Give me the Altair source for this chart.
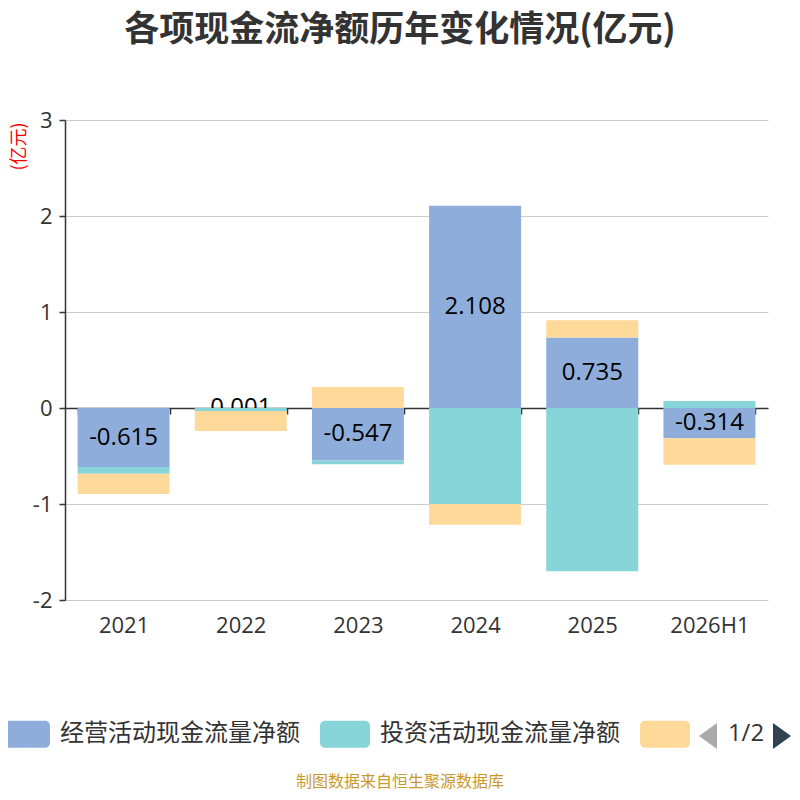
import altair as alt
import pandas as pd

years = ["2021", "2022", "2023", "2024", "2025", "2026H1"]
series_names = ["经营活动现金流量净额", "投资活动现金流量净额", "筹资活动现金流量净额"]
operating = [-0.615, 0.001, -0.547, 2.108, 0.735, -0.314]
investing = [-0.07, -0.03, -0.04, -1.00, -1.70, 0.073]
financing = [-0.21, -0.21, 0.22, -0.215, 0.18, -0.277]
colors = ["#8EADDB", "#87D5D8", "#FFD999"]

rows = []
for i, y in enumerate(years):
    for k, vals in enumerate([operating, investing, financing]):
        rows.append({"year": y, "series": series_names[k], "order": k, "value": vals[i]})
df = pd.DataFrame(rows)

FONT = "Noto Sans CJK SC"
NUMFONT = "Open Sans"
W, H = 703, 480

base = alt.Chart(df).transform_calculate(
    sign="datum.value >= 0 ? 'pos' : 'neg'"
).transform_stack(
    stack="value", groupby=["year", "sign"], as_=["v0", "v1"],
    sort=[alt.SortField("order", order="ascending")]
).transform_calculate(
    mid="(datum.v0 + datum.v1) / 2",
    lbl="replace(format(datum.value, '.3f'), '\u2212', '-')"
)

xenc = alt.X("year:N", sort=years,
             scale=alt.Scale(paddingInner=0.215, paddingOuter=0.1075),
             axis=alt.Axis(title=None, offset=-192, tickBand="extent",
                           domainColor="#333333", domainWidth=1.5,
                           tickColor="#333333", tickSize=6, tickWidth=1.5,
                           labelFontSize=22, labelColor="#333333", labelFont=NUMFONT,
                           labelPadding=201, labelAngle=0, grid=False))
yaxis = alt.Axis(values=[-2, -1, 0, 1, 2, 3], title="(亿元)", titleAngle=270,
                 titleX=-46, titleY=26, titleAlign="center", titleBaseline="middle",
                 titleColor="red", titleFontSize=18, titleFontWeight="normal", titleFont=FONT,
                 domainColor="#333333", domainWidth=1.5, tickColor="#333333", tickSize=6,
                 tickWidth=1.5, labelFontSize=22, labelColor="#333333", labelFont=NUMFONT,
                 labelExpr="replace(datum.label, '\u2212', '-')",
                 labelPadding=7, gridColor="#cccccc", gridWidth=1.2)
yscale = alt.Scale(domain=[-2, 3], nice=False)

legend_path = ("M-0.8,-0.54H0.8A0.2,0.2,0,0,1,1,-0.34V0.34A0.2,0.2,0,0,1,0.8,0.54"
               "H-0.8A0.2,0.2,0,0,1,-1,0.34V-0.34A0.2,0.2,0,0,1,-0.8,-0.54Z")
color = alt.Color("series:N", scale=alt.Scale(domain=series_names, range=colors),
                  legend=alt.Legend(orient="none", legendX=-65, legendY=589,
                                    direction="horizontal", title=None,
                                    symbolType=legend_path, symbolSize=2500,
                                    symbolStrokeWidth=0, symbolOpacity=1,
                                    labelFontSize=24, labelFont=FONT, labelColor="#333333",
                                    labelLimit=400, labelOffset=10, columnPadding=20,
                                    labelExpr="datum.label == '筹资活动现金流量净额' ? '' : datum.label"))

bars_op = base.transform_filter("datum.order == 0").mark_bar().encode(
    x=xenc, y=alt.Y("v0:Q", scale=yscale, axis=yaxis), y2="v1:Q", color=color)

labels = base.transform_filter("datum.order == 0").mark_text(
    fontSize=24, font=NUMFONT, color="#000000").encode(
    x=xenc, y=alt.Y("mid:Q", scale=yscale, axis=yaxis),
    text="lbl:N")

bars_rest = base.transform_filter("datum.order > 0").mark_bar().encode(
    x=xenc, y=alt.Y("v0:Q", scale=yscale, axis=yaxis), y2="v1:Q", color=color)

one = pd.DataFrame({"t": ["x"]})
title = alt.Chart(one).mark_text(fontSize=35, fontWeight="bold", font=FONT,
                                 color="#333333").encode(
    x=alt.value(335), y=alt.value(-90), text=alt.value("各项现金流净额历年变化情况(亿元)"))
footer = alt.Chart(one).mark_text(fontSize=16, font=FONT, color="#C9992E").encode(
    x=alt.value(335), y=alt.value(662), text=alt.value("制图数据来自恒生聚源数据库"))
page = alt.Chart(one).mark_text(fontSize=24, font=NUMFONT, color="#333333").encode(
    x=alt.value(681), y=alt.value(614), text=alt.value("1/2"))
arrow_l = alt.Chart(one).mark_point(shape="M1,-1.45L-1,0L1,1.45Z", size=324, filled=True,
                                    color="#aaaaaa", opacity=1).encode(
    x=alt.value(643), y=alt.value(616))
arrow_r = alt.Chart(one).mark_point(shape="M-1,-1.45L1,0L-1,1.45Z", size=324, filled=True,
                                    color="#2f4554", opacity=1).encode(
    x=alt.value(717), y=alt.value(616))

chart = alt.layer(bars_op, labels, bars_rest, title, footer, page, arrow_l, arrow_r).properties(
    width=W, height=H,
    autosize=alt.AutoSizeParams(type="none"),
    padding={"left": 57, "top": 112, "right": 24, "bottom": 192},
).configure_view(stroke=None)

chart.save("out.html", embed_options={"renderer": "svg", "actions": False})
